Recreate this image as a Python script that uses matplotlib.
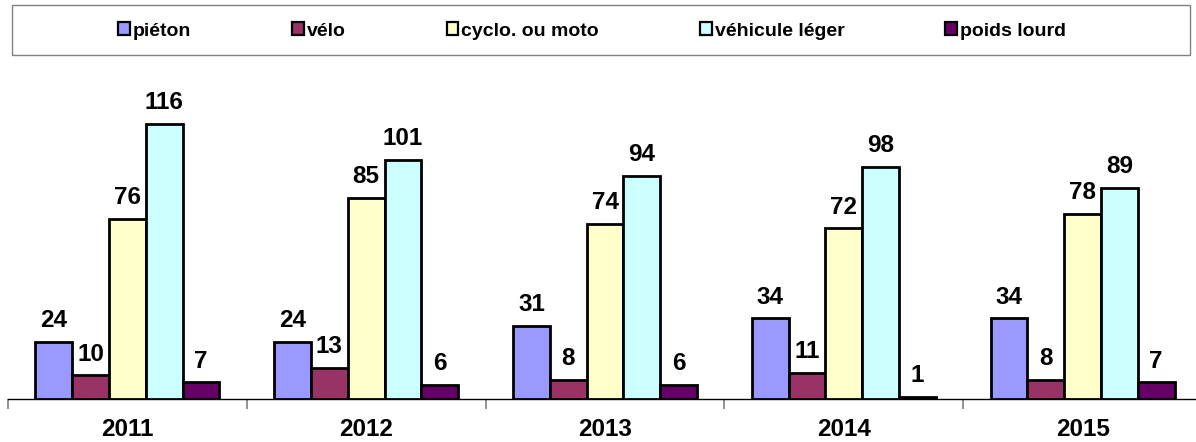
import numpy as np
import matplotlib.pyplot as plt
from matplotlib.patches import Rectangle

plt.rcParams['font.family'] = ['Liberation Sans', 'DejaVu Sans']
plt.rcParams['font.weight'] = 'bold'

years = ['2011', '2012', '2013', '2014', '2015']
series = ['piéton', 'vélo', 'cyclo. ou moto', 'véhicule léger', 'poids lourd']
pieton = [24, 24, 31, 34, 34]
velo = [10, 13, 8, 11, 8]
cyclo = [76, 85, 74, 72, 78]
vehicule = [116, 101, 94, 98, 89]
poids = [7, 6, 6, 1, 7]
colors = ['#9999FF', '#993366', '#FFFFCC', '#CCFFFF', '#660066']

W, H = 1196, 442
fig = plt.figure(figsize=(W / 100, H / 100), dpi=100)
ax = fig.add_axes([8 / W, 1 - 399 / H, 1194 / W, 319 / H])

x = np.arange(len(years))
bw = 0.154
values = [pieton, velo, cyclo, vehicule, poids]
handles = []
for i, (name, vals, c) in enumerate(zip(series, values, colors)):
    pos = x + (i - 2) * bw
    bars = ax.bar(pos, vals, bw, color=c, edgecolor='black', linewidth=2.0, label=name, zorder=3)
    handles.append(bars)
    for p, v in zip(pos, vals):
        ax.annotate(str(v), (p, v), xytext=(0, 7), textcoords='offset points',
                    ha='center', va='bottom', fontsize=17.5, fontweight='bold')

ax.set_xlim(-0.5, 4.5)
ax.set_ylim(0, 134.6)
for s in ['top', 'right', 'left']:
    ax.spines[s].set_visible(False)
ax.spines['bottom'].set_linewidth(1.0)
ax.set_yticks([])
ax.set_xticks(x)
ax.set_xticklabels(years, fontsize=17.5, fontweight='bold')
ax.tick_params(axis='x', which='major', length=0, pad=14)
ax.set_xticks(np.arange(-0.5, 5, 1), minor=True)
ax.tick_params(axis='x', which='minor', length=7, width=1.2, color='#808080')

# legend box
fig.patches.append(Rectangle((12 / W, 1 - 55 / H), 1178 / W, 50 / H,
                             transform=fig.transFigure, fill=False,
                             edgecolor='#808080', linewidth=1.0))
leg = fig.legend(handles, series, loc='center', bbox_to_anchor=(592 / W, 1 - 31 / H),
                 ncol=5, frameon=False, handlelength=0.6, handleheight=0.6,
                 handletextpad=0.15, columnspacing=5.2,
                 prop={'weight': 'bold', 'size': 14})
for h in leg.legend_handles:
    h.set_linewidth(1.6)

fig.savefig('out.png', dpi=100)
